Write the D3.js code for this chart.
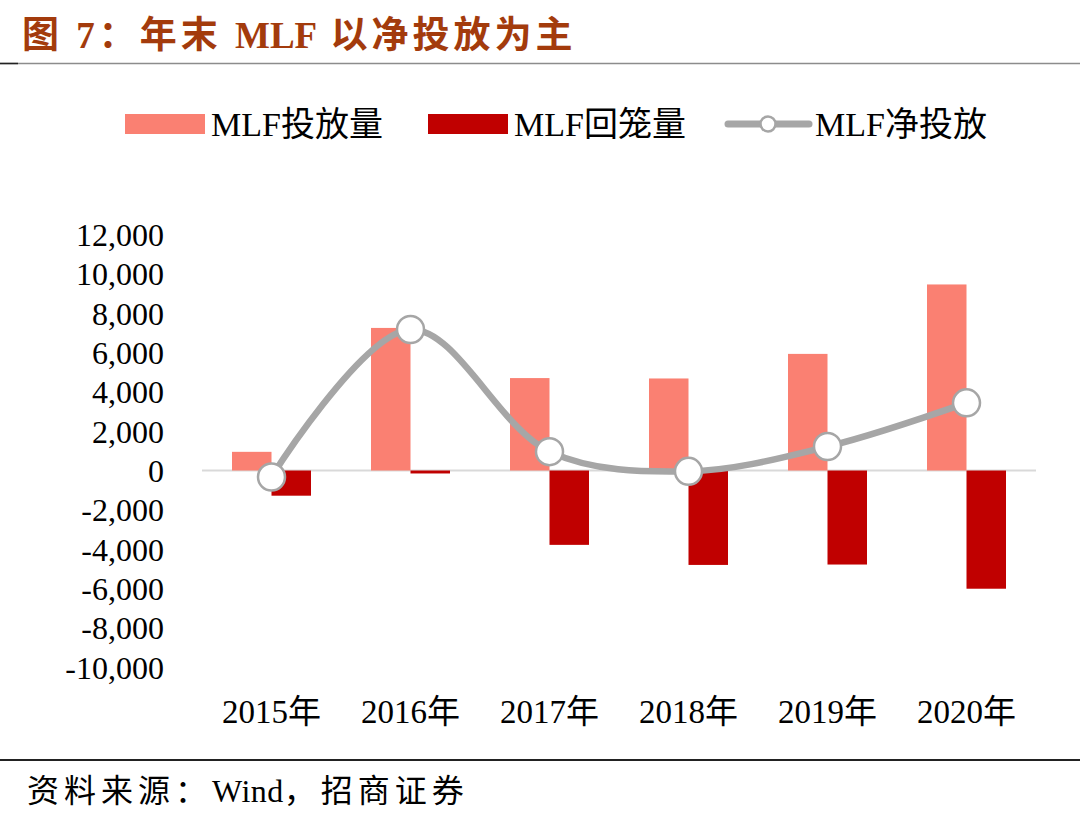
<!DOCTYPE html>
<html>
<head>
<meta charset="utf-8">
<script src="https://cdn.jsdelivr.net/npm/d3@7/dist/d3.min.js"></script>
<style>
  html, body { margin: 0; padding: 0; background: #fff; }
  svg { display: block; }
  text { font-family: "Liberation Serif", "Noto Sans CJK SC", serif; }
</style>
</head>
<body>
<svg id="chart" width="1080" height="824"></svg>
<script>
const categories = ["2015年", "2016年", "2017年", "2018年", "2019年", "2020年"];
const injection = [950, 7250, 4700, 4680, 5930, 9460];
const withdrawal = [-1280, -150, -3780, -4800, -4780, -6010];
const netInjection = [-330, 7170, 960, -40, 1220, 3440];
const yTicks = [12000, 10000, 8000, 6000, 4000, 2000, 0, -2000, -4000, -6000, -8000, -10000];
const seriesNames = ["MLF投放量", "MLF回笼量", "MLF净投放"];
const titleParts = [["图 7：年末 ", 4], ["MLF", 0], [" 以净投放为主", 4]];
const sourceParts = [["资料来源：", 5], ["Wind", 0.5], ["，招商证券", 5]];

const colors = { inj: "#fa8072", wd: "#c00000", net: "#a6a6a6" };

const svg = d3.select("#chart");

// Title
const title = svg.append("text")
  .attr("x", 22).attr("y", 48)
  .attr("fill", "#a33b0c")
  .attr("font-size", 37)
  .attr("font-weight", "bold");
titleParts.forEach(p => title.append("tspan").attr("letter-spacing", p[1]).text(p[0]));
svg.append("line").attr("x1", 0).attr("x2", 1080).attr("y1", 63.5).attr("y2", 63.5)
  .attr("stroke", "#8c8c8c").attr("stroke-width", 1.5);
svg.append("line").attr("x1", 0).attr("x2", 18).attr("y1", 63.5).attr("y2", 63.5)
  .attr("stroke", "#222").attr("stroke-width", 1.5);

// Scales
const x = d3.scaleBand().domain(categories).range([202, 1036]).paddingInner(0).paddingOuter(0);
const y = d3.scaleLinear().domain([-10000, 12000]).range([667.2, 234.5]);
const barW = 39.5;

// Y axis labels
const fmt = d3.format(",");
const yAxis = d3.axisLeft(y).tickValues(yTicks).tickFormat(d => fmt(d).replace("\u2212", "-")).tickSize(0).tickPadding(0);
const gy = svg.append("g").attr("transform", "translate(164,0)").call(yAxis);
gy.select(".domain").remove();
gy.selectAll("text").attr("font-size", 32).attr("fill", "#000")
  .style("font-family", "'Liberation Serif',serif").attr("dy", "0.34em");

// Zero line
svg.append("line").attr("x1", 202).attr("x2", 1036).attr("y1", y(0)).attr("y2", y(0))
  .attr("stroke", "#d9d9d9").attr("stroke-width", 2);

// Bars
const cx = c => x(c) + x.bandwidth() / 2;
svg.append("g").selectAll("rect").data(categories).join("rect")
  .attr("x", c => cx(c) - barW)
  .attr("width", barW)
  .attr("y", (c, i) => y(Math.max(0, injection[i])))
  .attr("height", (c, i) => Math.abs(y(injection[i]) - y(0)))
  .attr("fill", colors.inj);
svg.append("g").selectAll("rect").data(categories).join("rect")
  .attr("x", c => cx(c))
  .attr("width", barW)
  .attr("y", (c, i) => y(Math.max(0, withdrawal[i])))
  .attr("height", (c, i) => Math.abs(y(withdrawal[i]) - y(0)))
  .attr("fill", colors.wd);

// Net line
const pts = categories.map((c, i) => [cx(c), y(netInjection[i])]);
svg.append("path").datum(pts)
  .attr("d", d3.line().curve(d3.curveCatmullRom.alpha(0.5)))
  .attr("fill", "none").attr("stroke", colors.net).attr("stroke-width", 6.5)
  .attr("stroke-linecap", "round");
svg.append("g").selectAll("circle").data(pts).join("circle")
  .attr("cx", d => d[0]).attr("cy", d => d[1]).attr("r", 13.5)
  .attr("fill", "#fff").attr("stroke", colors.net).attr("stroke-width", 2.5);

// X axis labels
const xAxis = d3.axisBottom(x).tickSize(0).tickPadding(0);
const gx = svg.append("g").attr("transform", "translate(0,723)").call(xAxis);
gx.select(".domain").remove();
gx.selectAll("text").attr("font-size", 33).attr("fill", "#000").attr("dy", 0)
  .style("font-family", "'Liberation Serif','Noto Sans CJK SC',serif");

// Legend
const lg = svg.append("g");
lg.append("rect").attr("x", 125).attr("y", 114).attr("width", 80).attr("height", 20).attr("fill", colors.inj);
lg.append("text").attr("x", 211).attr("y", 136).attr("font-size", 34).text(seriesNames[0]);
lg.append("rect").attr("x", 428).attr("y", 114).attr("width", 80).attr("height", 20).attr("fill", colors.wd);
lg.append("text").attr("x", 514).attr("y", 136).attr("font-size", 34).text(seriesNames[1]);
lg.append("line").attr("x1", 728).attr("x2", 809).attr("y1", 124).attr("y2", 124)
  .attr("stroke", colors.net).attr("stroke-width", 7).attr("stroke-linecap", "round");
lg.append("circle").attr("cx", 768).attr("cy", 124).attr("r", 7.5)
  .attr("fill", "#fff").attr("stroke", colors.net).attr("stroke-width", 2.5);
lg.append("text").attr("x", 815).attr("y", 136).attr("font-size", 34).text(seriesNames[2]);

// Footer
svg.append("line").attr("x1", 0).attr("x2", 1080).attr("y1", 760).attr("y2", 760)
  .attr("stroke", "#222").attr("stroke-width", 2);
const src = svg.append("text").attr("x", 27).attr("y", 802).attr("font-size", 32);
sourceParts.forEach(p => src.append("tspan").attr("letter-spacing", p[1]).text(p[0]));
</script>
</body>
</html>
